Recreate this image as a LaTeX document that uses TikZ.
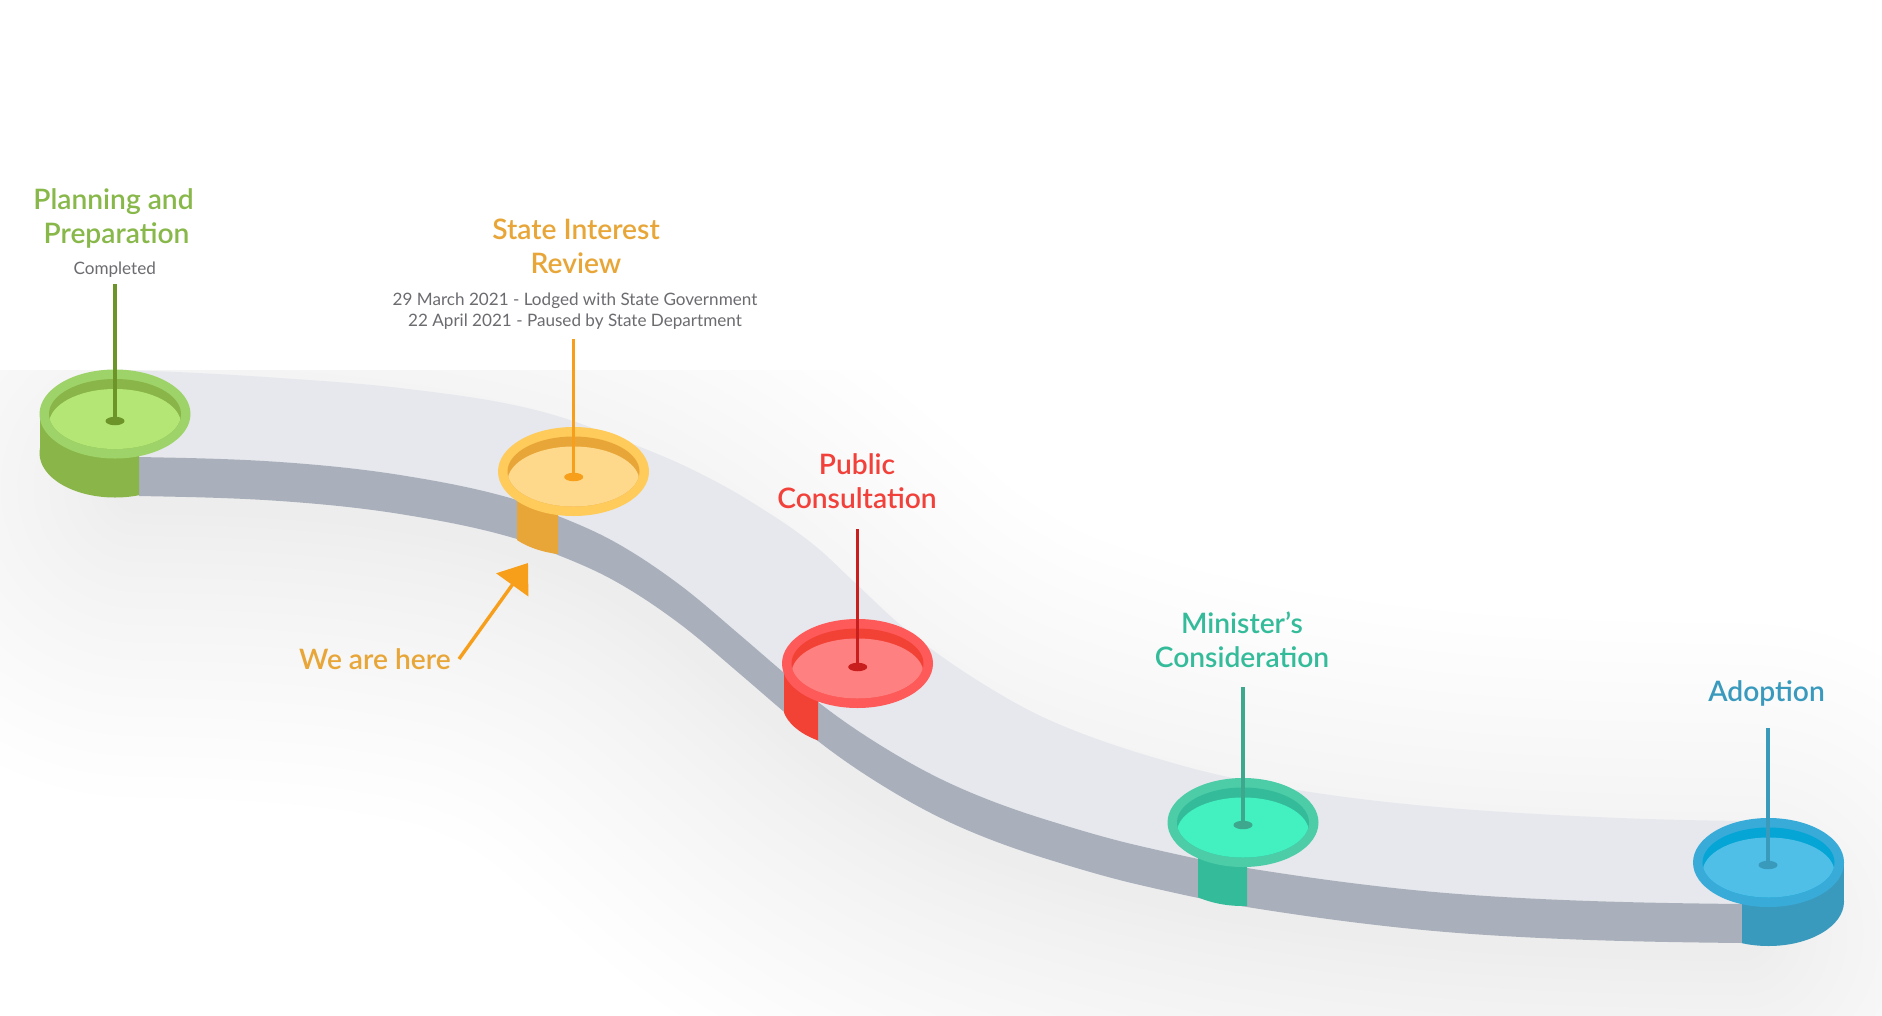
\documentclass[tikz,border=0pt]{standalone}
\usepackage{fontspec}
\setmainfont{Lato}
\newfontfamily\headfont{Lato Semibold}
\usetikzlibrary{arrows.meta,shapes.geometric}
% stage colours
\definecolor{ringA}{HTML}{9ED36A}\definecolor{wallA}{HTML}{8AB548}\definecolor{floorA}{HTML}{B4E676}\definecolor{stemA}{HTML}{6C9429}\definecolor{textA}{HTML}{88B84A}
\definecolor{ringB}{HTML}{FFCB5A}\definecolor{wallB}{HTML}{E8A638}\definecolor{floorB}{HTML}{FFD98B}\definecolor{stemB}{HTML}{F79F1B}\definecolor{textB}{HTML}{E8A638}
\definecolor{ringC}{HTML}{FF5A5A}\definecolor{wallC}{HTML}{F24236}\definecolor{floorC}{HTML}{FF8080}\definecolor{stemC}{HTML}{C81E1E}\definecolor{textC}{HTML}{F2403A}
\definecolor{ringD}{HTML}{4DCCA8}\definecolor{wallD}{HTML}{34BC9A}\definecolor{floorD}{HTML}{42F0C0}\definecolor{stemD}{HTML}{3DA88E}\definecolor{textD}{HTML}{34BC9A}
\definecolor{ringE}{HTML}{39ABD9}\definecolor{wallE}{HTML}{3A9ABD}\definecolor{innerE}{HTML}{05A5D5}\definecolor{floorE}{HTML}{4FBFE8}\definecolor{stemE}{HTML}{3A9ABC}\definecolor{textE}{HTML}{3A9ABD}
\definecolor{roadtop}{HTML}{E6E8ED}\definecolor{roadside}{HTML}{A9B0BB}\definecolor{subgrey}{HTML}{6B6B70}
\tikzset{
  title/.style={anchor=base,align=center,inner sep=0pt,font=\headfont\fontsize{28.2}{34}\selectfont},
  note/.style={anchor=base,align=center,inner sep=0pt,text=subgrey,font=\fontsize{17.1}{21}\selectfont},
  stem/.style={line width=3.2pt},
  pin/.style={ellipse,inner sep=0pt,minimum width=19pt,minimum height=8.5pt},
}
% Hermite segment: from (x0,y0) slope m0 to (x1,y1) slope m1, all y shifted by o
\def\hs#1#2#3#4#5#6#7{.. controls ({#1+(#4-#1)/3},{#2+#7+#3*(#4-#1)/3}) and ({#4-(#4-#1)/3},{#5+#7-#6*(#4-#1)/3}) .. (#4,#5+#7)}
% the road's lower surface edge, forwards and backwards, shifted down by #1
\def\upperfwd#1{
 (139,457+#1)
 \hs{139}{457}{.02}{280}{462}{.07}{#1}
 \hs{280}{462}{.07}{400}{475}{.16}{#1}
 \hs{400}{475}{.16}{517}{500}{.30}{#1}
 \hs{517}{500}{.30}{558}{516}{.40}{#1}
 \hs{558}{516}{.40}{613}{541}{.55}{#1}
 \hs{613}{541}{.55}{680}{585}{.75}{#1}
 \hs{680}{585}{.75}{740}{635}{.85}{#1}
 \hs{740}{635}{.85}{783}{672}{.85}{#1}
 \hs{783}{672}{.85}{818}{702}{.78}{#1}
 \hs{818}{702}{.78}{880}{745}{.62}{#1}
 \hs{880}{745}{.62}{947}{782}{.47}{#1}
 \hs{947}{782}{.47}{1047}{820}{.31}{#1}
 \hs{1047}{820}{.31}{1140}{846}{.23}{#1}
 \hs{1140}{846}{.23}{1247}{868}{.16}{#1}
 \hs{1247}{868}{.16}{1472}{895}{.07}{#1}
 \hs{1472}{895}{.07}{1742}{904}{.01}{#1}
}
\def\upperrev#1{
 \hs{1742}{904}{.01}{1472}{895}{.07}{#1}
 \hs{1472}{895}{.07}{1247}{868}{.16}{#1}
 \hs{1247}{868}{.16}{1140}{846}{.23}{#1}
 \hs{1140}{846}{.23}{1047}{820}{.31}{#1}
 \hs{1047}{820}{.31}{947}{782}{.47}{#1}
 \hs{947}{782}{.47}{880}{745}{.62}{#1}
 \hs{880}{745}{.62}{818}{702}{.78}{#1}
 \hs{818}{702}{.78}{783}{672}{.85}{#1}
 \hs{783}{672}{.85}{740}{635}{.85}{#1}
 \hs{740}{635}{.85}{680}{585}{.75}{#1}
 \hs{680}{585}{.75}{613}{541}{.55}{#1}
 \hs{613}{541}{.55}{558}{516}{.40}{#1}
 \hs{558}{516}{.40}{517}{500}{.30}{#1}
 \hs{517}{500}{.30}{400}{475}{.16}{#1}
 \hs{400}{475}{.16}{280}{462}{.07}{#1}
 \hs{280}{462}{.07}{139}{457}{.02}{#1}
}
\def\topfwd{
 (115,370)
 \hs{115}{370}{.02}{280}{378}{.07}{0}
 \hs{280}{378}{.07}{400}{388}{.12}{0}
 \hs{400}{388}{.12}{570}{420}{.33}{0}
 \hs{570}{420}{.33}{630}{443}{.39}{0}
 \hs{630}{443}{.39}{687}{467}{.48}{0}
 \hs{687}{467}{.48}{753}{503}{.63}{0}
 \hs{753}{503}{.63}{820}{550}{.85}{0}
 \hs{820}{550}{.85}{853}{581}{.92}{0}
 \hs{853}{581}{.92}{903}{627}{.82}{0}
 \hs{903}{627}{.82}{980}{682}{.62}{0}
 \hs{980}{682}{.62}{1047}{719}{.45}{0}
 \hs{1047}{719}{.45}{1180}{765}{.28}{0}
 \hs{1180}{765}{.28}{1297}{790}{.16}{0}
 \hs{1297}{790}{.16}{1520}{813}{.06}{0}
 \hs{1520}{813}{.06}{1768}{821}{.0}{0}
}
% #1 centre x, #2 centre y, #3 wall x from, #4 wall x to, #5 letter, #6 inner colour
\newcommand\stagedisc[6]{%
  \begin{scope}
    \clip (#3,#2) rectangle (#4,#2+90);
    \fill[wall#5] (#1-75.5,#2) rectangle (#1+75.5,#2+39);
    \fill[wall#5] (#1,#2+39) ellipse [x radius=75.5pt,y radius=44.5pt];
  \end{scope}
  \fill[ring#5] (#1,#2) ellipse [x radius=75.5pt,y radius=44.5pt];
  \fill[#6] (#1,#2) ellipse [x radius=66pt,y radius=35pt];
  \begin{scope}
    \clip (#1,#2) ellipse [x radius=66pt,y radius=35pt];
    \fill[floor#5] (#1,#2+10) ellipse [x radius=66pt,y radius=35pt];
  \end{scope}
}
\begin{document}
\begin{tikzpicture}[x=1pt,y=-1pt]
\useasboundingbox (0,0) rectangle (1882,1015);
\fill[white] (0,0) rectangle (1882,1015);
% soft shadow under the road
\begin{scope}
  \clip (0,370) rectangle (1882,1015);
  \foreach \lev in {0,...,17}{
    \pgfmathsetmacro\halfw{290*(1-\lev/18)^1.3+20}
    \pgfmathsetmacro\toneval{1-(\lev+1)*0.004}
    \definecolor{shadowtone}{gray}{\toneval}
    \draw[shadowtone,line width=2*\halfw pt,line cap=round,line join=round] \upperfwd{30};
  }
\end{scope}
% road surface and side band
\fill[roadtop] \topfwd -- (1742,904) \upperrev{0} -- cycle;
\fill[roadside] \upperfwd{0} -- (1742,943) \upperrev{39} -- cycle;
% discs
\stagedisc{115}{414}{39}{139}{A}{wallA}
\stagedisc{573.5}{471.5}{517}{558}{B}{wallB}
\stagedisc{857.5}{663.5}{784}{818}{C}{wallC}
\stagedisc{1243}{822.5}{1198}{1247}{D}{wallD}
\stagedisc{1768.5}{862.5}{1742}{1844}{E}{innerE}
% pins
\node[pin,fill=stemA] (pinA) at (115,421) {};
\node[pin,fill=stemB] (pinB) at (573.7,477) {};
\node[pin,fill=stemC] (pinC) at (857.7,667) {};
\node[pin,fill=stemD] (pinD) at (1243,825) {};
\node[pin,fill=stemE] (pinE) at (1768,865) {};
\coordinate (topA) at (115,284);
\coordinate (topB) at (573.7,339);
\coordinate (topC) at (857.7,529);
\coordinate (topD) at (1243,687);
\coordinate (topE) at (1768,728);
\draw[stem,stemA] (topA) -- (pinA.center);
\draw[stem,stemB] (topB) -- (pinB.center);
\draw[stem,stemC] (topC) -- (pinC.center);
\draw[stem,stemD] (topD) -- (pinD.center);
\draw[stem,stemE] (topE) -- (pinE.center);
% labels
\node[title,text=textA] (labA) at (116.5,243.5) {Planning and\hspace*{6pt}\\Preparation};
\node[note] (noteA) at (114.7,274) {Completed};
\node[title,text=textB] (labB) at (576,273.5) {State Interest\\Review};
\node[note] (noteB) at (575,326) {29 March 2021 - Lodged with State Government\\22 April 2021 - Paused by State Department};
\node[title,text=textC] (labC) at (857,508.5) {Public\\Consultation};
\node[title,text=textD] (labD) at (1242,667) {Minister’s\\Consideration};
\node[title,text=textE] (labE) at (1766.5,701) {Adoption};
\node[title,text=textB] (here) at (375,669.5) {We are here};
\coordinate (hereStart) at (459,659);
\coordinate (hereTip) at (528,563);
\draw[line width=3.4pt,stemB,-{Triangle[length=27pt,width=39pt]}] (hereStart) -- (hereTip);
\end{tikzpicture}
\end{document}
